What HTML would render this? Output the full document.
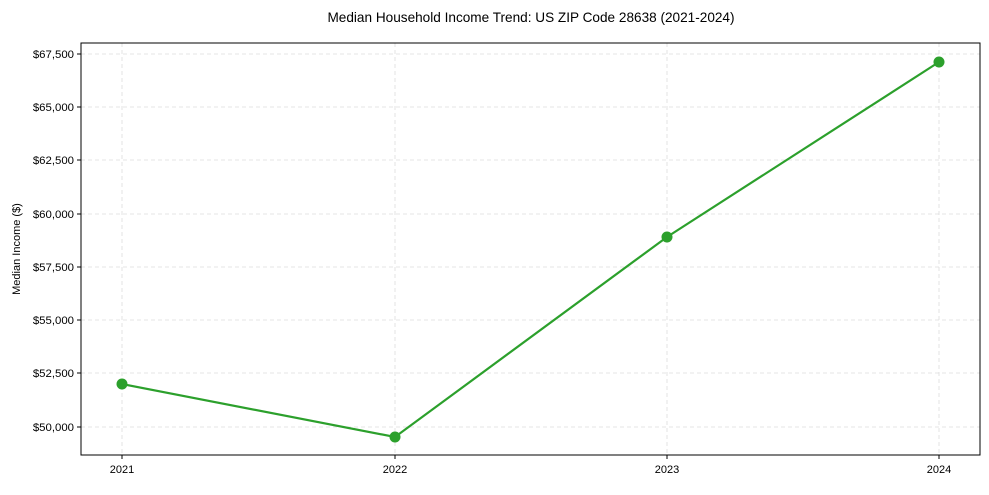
<!DOCTYPE html>
<html><head><style>
body{margin:0;background:#fff;}
svg text{font-family:"Liberation Sans",Arial,sans-serif;fill:#000;}
</style></head><body>
<svg width="989" height="490" viewBox="0 0 989 490" xmlns="http://www.w3.org/2000/svg">
<rect width="989" height="490" fill="#fff"/>
<text x="531" y="22" font-size="13.6" text-anchor="middle">Median Household Income Trend: US ZIP Code 28638 (2021-2024)</text>
<g stroke="#dcdcdc" stroke-width="0.8" stroke-dasharray="4,3">
<line x1="122" y1="43" x2="122" y2="455"/>
<line x1="395" y1="43" x2="395" y2="455"/>
<line x1="667" y1="43" x2="667" y2="455"/>
<line x1="939" y1="43" x2="939" y2="455"/>
<line x1="81" y1="54" x2="980" y2="54"/>
<line x1="81" y1="107" x2="980" y2="107"/>
<line x1="81" y1="160" x2="980" y2="160"/>
<line x1="81" y1="214" x2="980" y2="214"/>
<line x1="81" y1="267" x2="980" y2="267"/>
<line x1="81" y1="320" x2="980" y2="320"/>
<line x1="81" y1="373" x2="980" y2="373"/>
<line x1="81" y1="427" x2="980" y2="427"/>
</g>
<rect x="81" y="43" width="899" height="412" fill="none" stroke="#000" stroke-width="1"/>
<g stroke="#000" stroke-width="1">
<line x1="122" y1="455" x2="122" y2="459"/><line x1="395" y1="455" x2="395" y2="459"/>
<line x1="667" y1="455" x2="667" y2="459"/><line x1="939" y1="455" x2="939" y2="459"/>
<line x1="77" y1="54" x2="81" y2="54"/><line x1="77" y1="107" x2="81" y2="107"/>
<line x1="77" y1="160" x2="81" y2="160"/><line x1="77" y1="214" x2="81" y2="214"/>
<line x1="77" y1="267" x2="81" y2="267"/><line x1="77" y1="320" x2="81" y2="320"/>
<line x1="77" y1="373" x2="81" y2="373"/><line x1="77" y1="427" x2="81" y2="427"/>
</g>
<g font-size="11" text-anchor="middle">
<text x="122" y="473">2021</text><text x="395" y="473">2022</text>
<text x="667" y="473">2023</text><text x="939" y="473">2024</text>
</g>
<g font-size="11.4" text-anchor="end">
<text x="74" y="58">$67,500</text><text x="74" y="111">$65,000</text>
<text x="74" y="164">$62,500</text><text x="74" y="218">$60,000</text>
<text x="74" y="271">$57,500</text><text x="74" y="324">$55,000</text>
<text x="74" y="377">$52,500</text><text x="74" y="431">$50,000</text>
</g>
<text transform="translate(20,249) rotate(-90)" font-size="11" text-anchor="middle">Median Income ($)</text>
<polyline points="122,384 395,437 667,237 939,62" fill="none" stroke="#2ca02c" stroke-width="2.2"/>
<g fill="#2ca02c">
<circle cx="122" cy="384" r="5.5"/><circle cx="395" cy="437" r="5.5"/>
<circle cx="667" cy="237" r="5.5"/><circle cx="939" cy="62" r="5.5"/>
</g>
</svg>
</body></html>
